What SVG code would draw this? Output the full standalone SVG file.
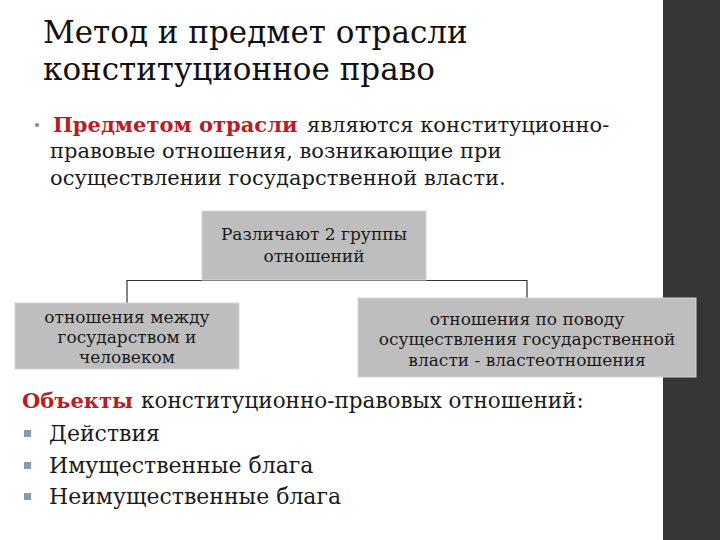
<svg xmlns="http://www.w3.org/2000/svg" width="720" height="540" viewBox="0 0 720 540">
<rect width="720" height="540" fill="#ffffff"/>
<rect x="663" y="0" width="57" height="540" fill="#363636"/>

<g id="title" fill="#111">
<text x="43" y="43" font-family="DejaVu Serif" font-size="31">Метод и предмет отрасли</text>
<text x="43" y="80" font-family="DejaVu Serif" font-size="31">конституционное право</text>
</g>

<g id="subject" fill="#1a1a1a">
<circle cx="37" cy="125" r="2" fill="#888"/>
<text x="53" y="132" font-family="DejaVu Serif" font-size="21" font-weight="bold" fill="#b81c26">Предметом отрасли</text>
<text x="307" y="132" font-family="DejaVu Serif" font-size="21">являются конституционно-</text>
<text x="50" y="158" font-family="DejaVu Serif" font-size="21">правовые отношения, возникающие при</text>
<text x="50" y="185" font-family="DejaVu Serif" font-size="21">осуществлении государственной власти.</text>
</g>

<g id="connectors" fill="none" stroke="#333" stroke-width="1.2">
<path d="M127,303 V280.5 H527 V298"/>
</g>

<g id="node-top" fill="#1a1a1a">
<rect x="202" y="211" width="224" height="69" fill="#bebebe" stroke="#d4d4d4"/>
<text x="314" y="240" font-family="DejaVu Serif" font-size="17" text-anchor="middle">Различают 2 группы</text>
<text x="314" y="262" font-family="DejaVu Serif" font-size="17" text-anchor="middle">отношений</text>
</g>

<g id="node-left" fill="#1a1a1a">
<rect x="15" y="303" width="224" height="66" fill="#bebebe" stroke="#d4d4d4"/>
<text x="127" y="323" font-family="DejaVu Serif" font-size="17" text-anchor="middle">отношения между</text>
<text x="127" y="343" font-family="DejaVu Serif" font-size="17" text-anchor="middle">государством и</text>
<text x="127" y="363" font-family="DejaVu Serif" font-size="17" text-anchor="middle">человеком</text>
</g>

<g id="node-right" fill="#1a1a1a">
<rect x="358" y="298" width="338" height="79" fill="#bebebe" stroke="#d4d4d4"/>
<text x="527" y="325" font-family="DejaVu Serif" font-size="17" text-anchor="middle">отношения по поводу</text>
<text x="527" y="345" font-family="DejaVu Serif" font-size="17" text-anchor="middle">осуществления государственной</text>
<text x="527" y="366" font-family="DejaVu Serif" font-size="17" text-anchor="middle">власти - властеотношения</text>
</g>

<g id="objects" fill="#1a1a1a">
<text x="22" y="408" font-family="DejaVu Serif" font-size="21" font-weight="bold" fill="#b81c26">Объекты</text>
<text x="141" y="408" font-family="DejaVu Serif" font-size="21.5">конституционно-правовых отношений:</text>
<rect x="24" y="430" width="7" height="7" fill="#7f9fab"/>
<text x="49" y="441" font-family="DejaVu Serif" font-size="22">Действия</text>
<rect x="24" y="462" width="7" height="7" fill="#7f9fab"/>
<text x="49" y="473" font-family="DejaVu Serif" font-size="22">Имущественные блага</text>
<rect x="24" y="493" width="7" height="7" fill="#7f9fab"/>
<text x="49" y="504" font-family="DejaVu Serif" font-size="22">Неимущественные блага</text>
</g>
</svg>
